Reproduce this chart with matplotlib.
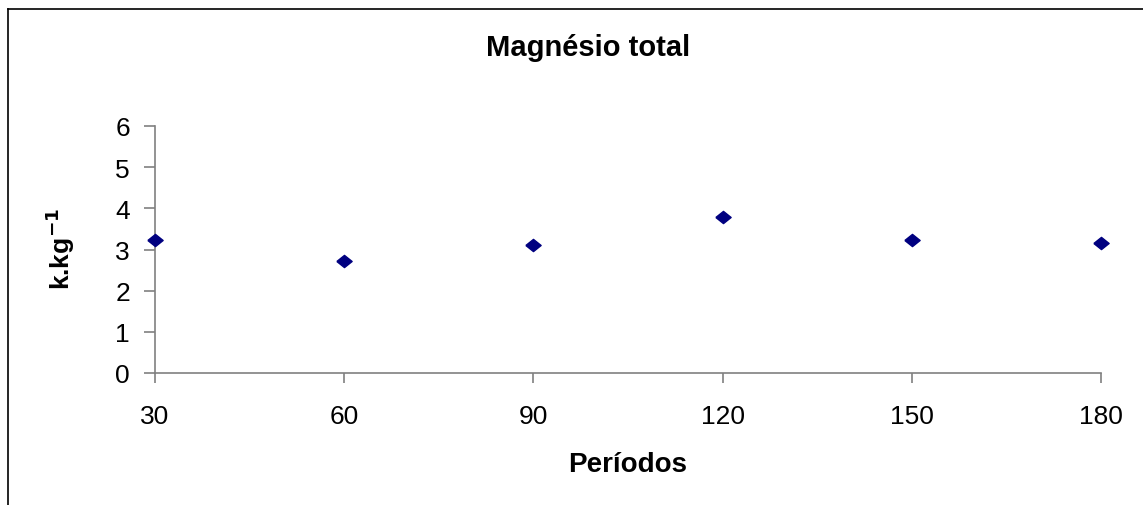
import matplotlib.pyplot as plt
from matplotlib.lines import Line2D

plt.rcParams['font.family'] = ['Liberation Sans', 'DejaVu Sans']

periodos = [30, 60, 90, 120, 150, 180]
magnesio = [3.22, 2.71, 3.12, 3.78, 3.22, 3.17]
yticks = [0, 1, 2, 3, 4, 5, 6]

fig = plt.figure(figsize=(11.43, 5.06), dpi=100)
ax = fig.add_axes([155 / 1143, 1 - 374 / 506, (1101 - 155) / 1143, (374 - 127) / 506])

# losango um pouco achatado
losango = [(-1, 0), (0, 0.8), (1, 0), (0, -0.8), (-1, 0)]
ax.plot(periodos, magnesio, linestyle='none', marker=losango, markersize=11,
        color='#000080', clip_on=False, zorder=3)

ax.set_xlim(30, 180)
ax.set_ylim(0, 6)
ax.set_xticks(periodos)
ax.set_yticks(yticks)

for s in ['top', 'right']:
    ax.spines[s].set_visible(False)
for s in ['left', 'bottom']:
    ax.spines[s].set_color('#808080')
    ax.spines[s].set_linewidth(1.2)

ax.tick_params(axis='y', direction='out', length=8, width=1.2, color='#808080',
               labelsize=19, pad=10)
ax.tick_params(axis='x', direction='out', length=7, width=1.2, color='#808080',
               labelsize=19, pad=15)

fig.text(588 / 1143, 1 - 48 / 506, 'Magnésio total', fontsize=21, fontweight='bold',
         ha='center', va='center')
fig.text(628 / 1143, 1 - 465 / 506, 'Períodos', fontsize=20, fontweight='bold',
         ha='center', va='center')
fig.text(60 / 1143, 1 - 249 / 506, r'k.kg$^{\mathbf{-1}}$', fontsize=19,
         fontweight='bold', rotation=90, ha='center', va='center')

# moldura da figura (topo e esquerda)
fig.add_artist(Line2D([8 / 1143, 8 / 1143], [0, 1 - 10 / 506], color='black', lw=1.2))
fig.add_artist(Line2D([8 / 1143, 1], [1 - 10 / 506, 1 - 10 / 506], color='black', lw=1.2))

fig.savefig('out.png', dpi=100)
